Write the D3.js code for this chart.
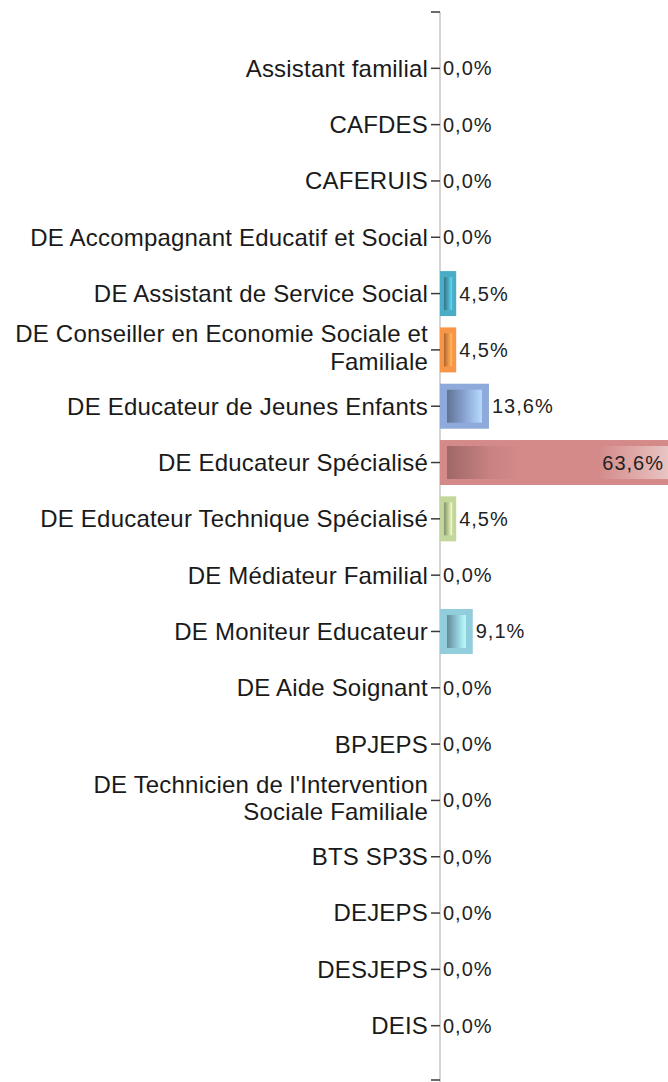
<!DOCTYPE html>
<html>
<head>
<meta charset="utf-8">
<script src="https://cdn.jsdelivr.net/npm/d3@7"></script>
<style>
  body { margin: 0; background: #fff; }
  svg { display: block; }
</style>
</head>
<body>
<div id="chart-area"></div>
<script>
const categories = [
    'Assistant familial',
    'CAFDES',
    'CAFERUIS',
    'DE Accompagnant Educatif et Social',
    'DE Assistant de Service Social',
    'DE Conseiller en Economie Sociale et|Familiale',
    'DE Educateur de Jeunes Enfants',
    'DE Educateur Spécialisé',
    'DE Educateur Technique Spécialisé',
    'DE Médiateur Familial',
    'DE Moniteur Educateur',
    'DE Aide Soignant',
    'BPJEPS',
    "DE Technicien de l'Intervention|Sociale Familiale",
    'BTS SP3S',
    'DEJEPS',
    'DESJEPS',
    'DEIS'
];
const values = [0, 0, 0, 0, 4.5, 4.5, 13.6, 63.6, 4.5, 0, 9.1, 0, 0, 0, 0, 0, 0, 0];
const barColors = ['#4bacc6', '#4bacc6', '#4bacc6', '#4bacc6', '#4bacc6', '#f79646', '#8eaadb',
    '#d48a89', '#c3d69b', '#4bacc6', '#92cddc', '#4bacc6', '#4bacc6', '#4bacc6', '#4bacc6',
    '#4bacc6', '#4bacc6', '#4bacc6'];

const width = 668, height = 1082;
const axisX = 440;

const svg = d3.select('#chart-area')
    .append('svg')
    .attr('width', width)
    .attr('height', height);

const yScale = d3.scalePoint()
    .domain(categories)
    .range([12, 1082])
    .padding(1);

const xScale = d3.scaleLinear()
    .domain([0, 100])
    .range([axisX, axisX + 360]);

const barH = 45;
const defs = svg.append('defs');

categories.forEach((c, i) => {
    const base = d3.color(barColors[i]);
    const big = values[i] > 50;
    const grad = defs.append('linearGradient').attr('id', 'g' + i);
    grad.append('stop').attr('offset', '0%').attr('stop-color', base.darker(big ? 0.8 : 1.1));
    grad.append('stop').attr('offset', big ? '60%' : '45%').attr('stop-color', base.darker(big ? 0.15 : 0.2));
    grad.append('stop').attr('offset', '100%').attr('stop-color', big ? base : base.brighter(0.7));
});
const hl = defs.append('linearGradient').attr('id', 'hl');
hl.append('stop').attr('offset', '0%').attr('stop-color', '#d48a89');
hl.append('stop').attr('offset', '100%').attr('stop-color', '#e8c4c3');

// axis line
svg.append('line')
    .attr('x1', axisX).attr('x2', axisX)
    .attr('y1', 12).attr('y2', 1082)
    .attr('stroke', '#d4d4d4')
    .attr('stroke-width', 2);

// bars
const bars = svg.append('g');
categories.forEach((c, i) => {
    const v = values[i];
    if (v <= 0) return;
    const y = yScale(c) - barH / 2;
    const w = xScale(v) - axisX;
    bars.append('rect')
        .attr('x', axisX).attr('y', y)
        .attr('width', w).attr('height', barH)
        .attr('fill', barColors[i]);
    const inset = Math.min(7, w * 0.25);
    const innerW = v > 50 ? 75 : w - 2 * inset;
    bars.append('rect')
        .attr('x', axisX + inset).attr('y', y + 6)
        .attr('width', innerW).attr('height', barH - 12)
        .attr('fill', 'url(#g' + i + ')');
    if (v > 50) {
        bars.append('rect')
            .attr('x', 598).attr('y', y + 6)
            .attr('width', width - 598).attr('height', barH - 12)
            .attr('fill', 'url(#hl)');
    }
});

// ticks (top / bottom and at each category)
const tickYs = [12, 1080].concat(categories.map(c => yScale(c)));
svg.append('g').selectAll('line')
    .data(tickYs)
    .join('line')
    .attr('x1', axisX - 9).attr('x2', axisX)
    .attr('y1', d => d).attr('y2', d => d)
    .attr('stroke', '#3a3a3a')
    .attr('stroke-width', 1.5);

// category labels
const labels = svg.append('g')
    .attr('font-family', 'Liberation Sans, Arial, sans-serif')
    .attr('font-size', '24px')
    .attr('fill', '#1a1a1a')
    .attr('text-anchor', 'end');
categories.forEach((c, i) => {
    const lines = c.split('|');
    const lh = 27.5;
    const y0 = yScale(c) - (lines.length - 1) * lh / 2 - (lines.length > 1 ? 2.5 : 0);
    const t = labels.append('text')
        .attr('letter-spacing', '0.2px');
    lines.forEach((l, k) => {
        t.append('tspan')
            .attr('x', axisX - 12)
            .attr('y', y0 + k * lh)
            .attr('dy', '0.35em')
            .text(l);
    });
});

// value labels
const fmt = v => v.toFixed(1).replace('.', ',') + '%';
svg.append('g')
    .attr('font-family', 'Liberation Sans, Arial, sans-serif')
    .attr('font-size', '20px')
    .attr('fill', '#222')
    .selectAll('text')
    .data(categories)
    .join('text')
    .attr('x', (c, i) => values[i] > 50 ? width - 4 : xScale(values[i]) + 3)
    .attr('y', c => yScale(c))
    .attr('dy', '0.35em')
    .attr('text-anchor', (c, i) => values[i] > 50 ? 'end' : 'start')
    .attr('letter-spacing', '1px')
    .text((c, i) => fmt(values[i]));
</script>
</body>
</html>
